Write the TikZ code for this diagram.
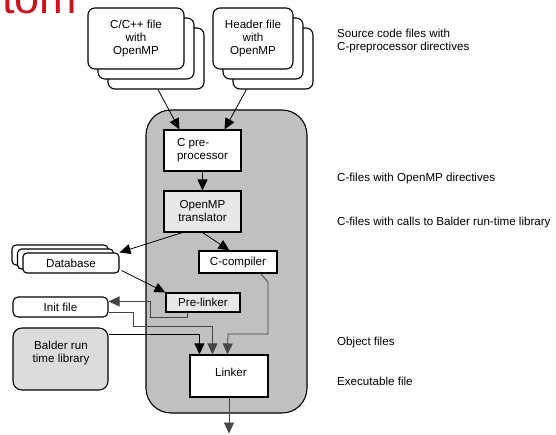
\documentclass[tikz,border=0pt]{standalone}
\usepackage{fontspec}
\setmainfont{Liberation Sans}
\usetikzlibrary{arrows.meta,calc}
\definecolor{titlered}{RGB}{200,20,30}
\definecolor{sysgray}{RGB}{192,192,192}
\definecolor{lightbox}{RGB}{232,232,232}
\definecolor{balderfill}{RGB}{220,220,220}
\definecolor{linegray}{RGB}{70,70,70}
\tikzset{
  every node/.style={font=\fontsize{11.6}{13}\selectfont},
  filebox/.style={draw, line width=1.1pt, rounded corners=7pt, fill=white, inner sep=0pt, align=center},
  procbox/.style={draw, line width=1.1pt, fill=white, inner sep=0pt, align=center},
  arr/.style={-{Triangle[length=11pt,width=10pt]}, line width=0.8pt},
  grayarr/.style={arr, draw=linegray},
  lbl/.style={anchor=west, inner sep=0pt, align=left}
}
\begin{document}
\begin{tikzpicture}[x=1pt,y=-1pt]
\useasboundingbox (0,0) rectangle (556,434);
% title fragment
\node[anchor=base west, inner sep=0pt, text=titlered, font=\fontsize{45}{50}\selectfont] (title) at (2,13) {tom};

% source stacks
\node[filebox, minimum width=96pt, minimum height=61pt] (cc3) at (156,58.5) {};
\node[filebox, minimum width=96pt, minimum height=61pt] (cc2) at (146,48.5) {};
\node[filebox, minimum width=96pt, minimum height=61pt] (cc1) at (136,38.5) {C/C++ file\\with\\OpenMP};
\node[filebox, minimum width=80pt, minimum height=61pt] (hd3) at (273,58.5) {};
\node[filebox, minimum width=80pt, minimum height=61pt] (hd2) at (263,48.5) {};
\node[filebox, minimum width=80pt, minimum height=61pt] (hd1) at (253,38.5) {Header file\\with\\OpenMP};

% system box
\node[draw, line width=1.1pt, fill=sysgray, rounded corners=25pt, minimum width=161pt, minimum height=303pt, inner sep=0pt] (sys) at (226.5,261.5) {};

% process boxes
\node[procbox, minimum width=77pt, minimum height=41pt, align=left] (pre) at (202.5,150.5) {C pre-\\processor};
\node[procbox, fill=lightbox, minimum width=77pt, minimum height=41pt] (trans) at (202.5,211.5) {OpenMP\\translator};
\node[procbox, minimum width=78pt, minimum height=22pt] (comp) at (238,262) {C-compiler};
\node[procbox, fill=lightbox, minimum width=74pt, minimum height=19pt] (plink) at (203,302.5) {Pre-linker};
\node[procbox, minimum width=78pt, minimum height=42pt] (linker) at (229,376) {};
\node[anchor=center, inner sep=0pt] (linkertxt) at (231,372) {Linker};

% database stack
\node[filebox, rounded corners=4pt, minimum width=96pt, minimum height=20pt] (db3) at (60,255) {};
\node[filebox, rounded corners=4pt, minimum width=96pt, minimum height=20pt] (db2) at (65.5,259) {};
\node[filebox, rounded corners=4pt, minimum width=96pt, minimum height=20pt] (db1) at (71,263) {Database};

% init, balder
\node[filebox, rounded corners=5pt, minimum width=95pt, minimum height=20pt] (init) at (60.5,307) {Init file};
\node[filebox, fill=balderfill, rounded corners=9pt, minimum width=95pt, minimum height=62pt] (balder) at (60.5,359) {};
\node[anchor=center, inner sep=0pt, align=center] (baldertxt) at (61,353) {Balder run\\time library};

% connectors
\draw[arr] ($(cc3.south)+(2,0)$) -- ($(pre.north west)+(16,0)$);
\draw[arr] ($(hd3.south west)+(14,0)$) -- ($(pre.north east)+(-17,0)$);
\draw[arr] (pre.south) -- (trans.north);
\draw[arr] ($(trans.south west)+(19,0)$) -- (db1.north east);
\draw[arr] (trans.south) -- ($(comp.north west)+(31,0)$);
\draw[arr] ($(db1.south east)+(2,-3)$) -- (plink.north west);
\draw[grayarr] ($(plink.south west)+(22,0)$) |- (150,317) |- ($(init.north east)+(0,5)$);
\draw[grayarr] ($(init.south east)+(0,-5)$) -| (133,326) -| ($(linker.north west)+(23,0)$);
\draw[arr] ($(balder.north east)+(0,7)$) -| ($(linker.north west)+(10,0)$);
\draw[grayarr] ($(comp.south east)+(-17,0)$) -- (268,282) |- (228,334) -- ($(linker.north west)+(38,0)$);
\draw[arr, draw=linegray] (linker.south) -- ++(0,36);

% right labels
\node[lbl] (l1) at (337,40.5) {Source code files with\\C-preprocessor directives};
\node[lbl] (l2) at (337,178) {C-files with OpenMP directives};
\node[lbl] (l3) at (337,222) {C-files with calls to Balder run-time library};
\node[lbl] (l4) at (337,342) {Object files};
\node[lbl] (l5) at (337,381) {Executable file};
\end{tikzpicture}
\end{document}
